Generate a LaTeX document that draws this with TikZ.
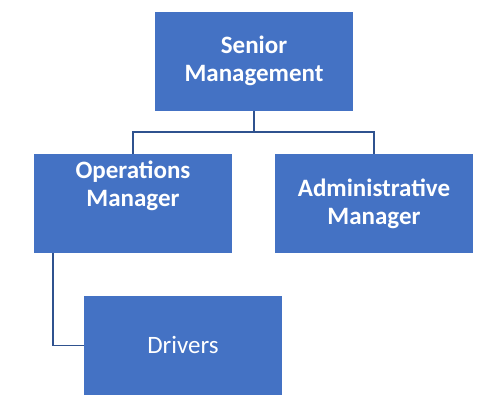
\documentclass[tikz,border=0pt]{standalone}
\usepackage{fontspec}
\setmainfont{Carlito}
\definecolor{boxblue}{RGB}{68,114,196}
\definecolor{linkblue}{RGB}{47,82,143}
\begin{document}
\begin{tikzpicture}[x=1pt,y=-1pt,
  orgbox/.style={draw=none,fill=boxblue,minimum width=198pt,minimum height=99pt,inner sep=0pt,outer sep=0pt},
  boxtext/.style={text=white,font=\fontsize{25}{28}\selectfont\bfseries,align=center,inner sep=0pt},
  link/.style={draw=linkblue,line width=1.1pt}]
\useasboundingbox (0,0) rectangle (496,405);
\node[orgbox] (sen) at (254,61.5) {};
\node[orgbox] (ops) at (133,203.5) {};
\node[orgbox] (adm) at (374,203.5) {};
\node[orgbox] (drv) at (183,345.5) {};
\node[boxtext] (sent) at (254,61) {Senior\\Management};
\node[boxtext] (opst) at (133,186) {Operations\\Manager};
\node[boxtext] (admt) at (374,203.5) {Administrative\\Manager};
\node[boxtext,font=\fontsize{25}{28}\selectfont] (drvt) at (183,345) {Drivers};
\coordinate (j) at (254,132);
\draw[link] (sen.south) -- (j);
\draw[link] (j) -| (ops.north);
\draw[link] (j) -| (adm.north);
\draw[link] ([xshift=-80pt]ops.south) |- (drv.west);
\end{tikzpicture}
\end{document}
